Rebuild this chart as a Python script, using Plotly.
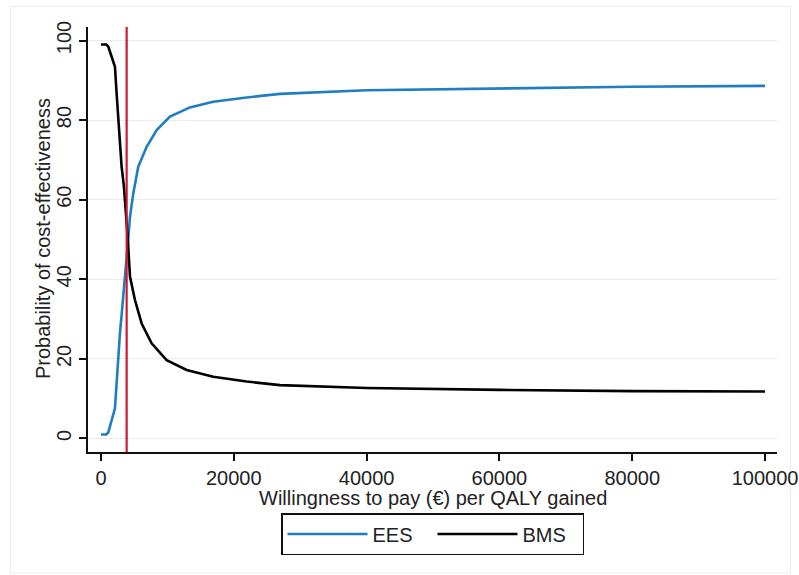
import plotly.graph_objects as go

# Willingness-to-pay thresholds (EUR per QALY) and probabilities (%)
wtp_ees = [0, 800, 1100, 1600, 2100, 2360, 2600, 2860, 3110, 3360, 3600, 3870,
           4100, 4370, 4870, 5620, 6880, 8390, 10390, 13400, 16900, 21940, 26960,
           40000, 60000, 80000, 100000]
ees = [1.0, 1.0, 1.5, 4.2, 7.5, 13.9, 20.6, 26.4, 31.0, 35.5, 39.5, 44.0,
       50.0, 55.7, 61.6, 68.3, 73.3, 77.5, 80.9, 83.2, 84.6, 85.7, 86.6,
       87.5, 88.0, 88.4, 88.6]

wtp_bms = [0, 800, 1100, 1360, 1700, 2110, 2360, 2760, 3110, 3460, 3860, 4050,
           4370, 5120, 6130, 7630, 9890, 12900, 16900, 21940, 26960,
           40000, 60000, 80000, 100000]
bms = [99.0, 99.0, 98.5, 97.1, 95.5, 93.4, 86.7, 76.7, 68.3, 63.3, 55.7, 50.0,
       40.7, 34.8, 28.9, 23.9, 19.7, 17.2, 15.5, 14.3, 13.4,
       12.7, 12.2, 11.9, 11.8]

threshold = 3870
ytick_vals = [0, 20, 40, 60, 80, 100]
xtick_vals = [0, 20000, 40000, 60000, 80000, 100000]

FONT = "Liberation Sans, Arial, sans-serif"
FS = 20
TXT = "#222222"

L, R, T, B = 88, 22, 27, 123
PW, PH = 799 - L - R, 575 - T - B


def px_x(p):
    return (p - L) / PW


def px_y(p):
    return (575 - B - p) / PH


fig = go.Figure()
fig.add_trace(go.Scatter(x=wtp_ees, y=ees, mode="lines", name="EES",
                         line=dict(color="#1f7dc2", width=2.6)))
fig.add_trace(go.Scatter(x=wtp_bms, y=bms, mode="lines", name="BMS",
                         line=dict(color="#000000", width=2.6)))

fig.add_vline(x=threshold, line=dict(color="#cc1a33", width=2.2))

# faint outer frame of the graph region
fig.add_shape(type="rect", xref="paper", yref="paper",
              x0=px_x(10.5), x1=px_x(790.5), y0=px_y(573), y1=px_y(6.5),
              line=dict(color="#ececec", width=1), layer="below")

fig.update_layout(
    width=799, height=575,
    margin=dict(l=L, r=R, t=T, b=B, autoexpand=False),
    paper_bgcolor="white", plot_bgcolor="white",
    font=dict(family=FONT, size=FS, color=TXT),
    showlegend=True,
    legend=dict(orientation="h", x=0.5, xanchor="center", y=px_y(513), yanchor="top",
                bordercolor="#111111", borderwidth=1.5, itemwidth=80,
                font=dict(family=FONT, size=FS, color=TXT),
                tracegroupgap=0, entrywidth=55),
    xaxis=dict(range=[-1950, 101800], tickvals=xtick_vals,
               ticktext=[str(v) for v in xtick_vals], automargin=False,
               showgrid=False, zeroline=False, showline=True, linecolor="#111111", linewidth=1.5,
               ticks="outside", ticklen=7, tickcolor="#111111", tickwidth=1.5,
               tickfont=dict(family=FONT, size=FS, color=TXT)),
    yaxis=dict(range=[-3.4, 103.4], tickvals=ytick_vals, automargin=False,
               showgrid=True, gridcolor="#ebebeb", gridwidth=1.2,
               zeroline=False, showline=True, linecolor="#111111", linewidth=1.5,
               ticks="outside", ticklen=7, tickcolor="#111111", tickwidth=1.5,
               tickangle=-90,
               tickfont=dict(family=FONT, size=FS, color=TXT)),
)

fig.add_annotation(text="Probability of cost-effectiveness", xref="paper", yref="paper",
                   x=px_x(43), y=px_y(239), xanchor="center", yanchor="middle", textangle=-90,
                   showarrow=False, font=dict(family=FONT, size=FS, color=TXT))
fig.add_annotation(text="Willingness to pay (€) per QALY gained", xref="paper", yref="paper",
                   x=0.5, y=px_y(498), xanchor="center", yanchor="middle",
                   showarrow=False, font=dict(family=FONT, size=FS, color=TXT))

fig.write_html("out.html", config={"displayModeBar": False},
               post_script="document.body.style.margin='0px';document.body.style.overflow='hidden';")
